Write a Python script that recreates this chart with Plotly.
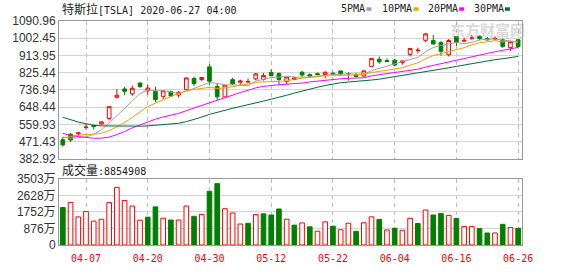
import plotly.graph_objects as go

# ---------------- data ----------------
dates = ["04-02","04-03","04-06","04-07","04-08","04-09","04-13","04-14","04-15","04-16",
         "04-17","04-20","04-21","04-22","04-23","04-24","04-27","04-28","04-29","04-30",
         "05-01","05-04","05-05","05-06","05-07","05-08","05-11","05-12","05-13","05-14",
         "05-15","05-18","05-19","05-20","05-21","05-22","05-26","05-27","05-28","05-29",
         "06-01","06-02","06-03","06-04","06-05","06-08","06-09","06-10","06-11","06-12",
         "06-15","06-16","06-17","06-18","06-19","06-22","06-23","06-24","06-25","06-26"]

open_ = [481.03, 509.00, 511.20, 545.00, 554.20, 562.09, 590.16, 698.97, 742.00, 716.94,
         772.28, 732.70, 730.12, 703.98, 727.60, 710.81, 737.61, 795.64, 790.17, 855.19,
         755.00, 701.00, 789.79, 776.50, 777.21, 793.77, 790.51, 827.00, 820.83, 780.00,
         790.35, 827.78, 815.17, 820.50, 816.00, 822.17, 834.50, 820.86, 813.51, 808.75,
         858.00, 894.70, 888.12, 889.88, 877.84, 919.00, 940.01, 991.88, 990.20, 980.00,
         917.79, 1011.85, 987.13, 1003.00, 1012.78, 999.95, 998.88, 994.11, 954.27, 994.78]
high = [494.26, 515.49, 521.00, 565.00, 557.21, 575.18, 652.00, 741.88, 753.13, 759.45,
        774.95, 765.57, 753.33, 734.00, 734.00, 730.73, 799.49, 805.00, 803.20, 869.82,
        772.77, 762.00, 798.92, 789.80, 796.40, 824.00, 824.00, 843.29, 826.00, 803.36,
        805.05, 834.72, 822.07, 826.00, 832.50, 831.78, 834.60, 827.71, 824.75, 835.00,
        899.00, 908.66, 897.94, 895.75, 886.52, 950.00, 954.44, 1027.48, 1018.96, 987.98,
        998.84, 1012.88, 1005.00, 1019.41, 1015.97, 1008.88, 1012.00, 1000.88, 985.98, 995.00]
low = [446.40, 468.20, 497.96, 532.34, 533.33, 557.11, 580.53, 692.43, 710.00, 706.72,
       747.66, 712.21, 673.79, 688.71, 703.13, 698.18, 735.00, 756.69, 783.16, 763.50,
       683.04, 698.00, 762.18, 761.11, 772.35, 787.01, 785.00, 808.00, 763.30, 764.00,
       786.55, 803.88, 806.08, 811.80, 796.00, 812.00, 815.71, 785.00, 801.69, 804.21,
       854.10, 871.00, 880.10, 858.44, 866.20, 909.16, 923.93, 982.50, 972.00, 912.60,
       908.50, 962.39, 982.57, 994.47, 991.34, 991.00, 994.01, 953.14, 937.15, 954.87]
close = [454.47, 480.01, 516.24, 545.45, 548.84, 573.00, 650.95, 709.89, 729.83, 745.21,
         753.89, 746.36, 686.72, 732.11, 705.63, 725.15, 798.75, 769.12, 800.51, 781.88,
         701.32, 761.19, 768.21, 782.58, 780.04, 819.42, 811.29, 809.41, 790.96, 803.33,
         799.17, 813.63, 808.01, 815.56, 827.60, 816.88, 818.87, 820.23, 805.81, 835.00,
         898.10, 881.56, 882.96, 864.38, 885.66, 949.92, 940.67, 1025.05, 972.84, 935.28,
         990.90, 982.13, 991.79, 1003.96, 1000.90, 994.32, 1001.78, 960.85, 985.98, 959.74]

# volume, in 万 shares
volume = [1986, 2256, 1490, 1781, 1266, 1365, 2248, 3058, 2358, 2066,
          1313, 1475, 2021, 1422, 1324, 1324, 2068, 1522, 1622, 2847,
          3253, 1924, 1699, 1112, 1153, 1613, 1652, 1591, 1907, 1368,
          1052, 1170, 964, 731, 1225, 999, 809, 1155, 728, 1181,
          1494, 1357, 795, 889, 781, 1417, 1139, 1856, 1592, 1673,
          1570, 1405, 979, 975, 868, 636, 637, 1096, 925, 885.4908]

ma5 = [495.30, 488.43, 491.26, 495.55, 509.00, 532.71, 566.90, 605.63, 642.50, 681.78,
       717.95, 737.04, 732.40, 732.86, 724.94, 719.19, 729.67, 746.15, 759.83, 775.08,
       770.32, 762.80, 762.62, 759.04, 758.67, 782.29, 792.31, 800.55, 802.22, 806.88,
       802.83, 803.30, 803.02, 807.94, 812.79, 816.34, 817.38, 819.83, 817.88, 819.36,
       835.60, 848.14, 860.69, 872.40, 882.53, 892.90, 904.72, 933.14, 954.83, 964.75,
       972.95, 981.24, 974.59, 980.81, 993.94, 994.62, 998.55, 992.36, 988.77, 980.53]
ma10 = [491.08, 496.32, 504.52, 508.56, 509.52, 514.01, 527.67, 548.44, 569.02, 595.39,
        625.33, 651.97, 669.01, 687.68, 703.36, 718.57, 733.35, 739.28, 746.35, 750.01,
        744.76, 746.24, 754.39, 759.43, 766.88, 776.30, 777.56, 781.59, 780.63, 782.78,
        792.56, 797.80, 801.78, 805.08, 809.84, 809.58, 810.34, 811.42, 812.91, 816.08,
        825.97, 832.76, 840.26, 845.14, 850.95, 864.25, 876.43, 896.91, 913.61, 923.64,
        932.92, 942.98, 953.86, 967.82, 979.34, 983.78, 989.90, 983.48, 984.79, 987.24]
ma20 = [513.65, 502.48, 497.89, 492.90, 488.63, 489.25, 494.47, 507.71, 522.69, 541.89,
        558.20, 574.14, 586.77, 598.12, 606.44, 616.29, 630.51, 643.86, 657.68, 672.70,
        685.04, 699.10, 711.70, 723.56, 735.12, 747.44, 755.46, 760.43, 763.49, 766.39,
        768.66, 772.02, 778.09, 782.26, 788.36, 792.94, 793.95, 796.50, 796.77, 799.43,
        809.26, 815.28, 821.02, 825.11, 830.39, 836.92, 843.39, 854.17, 863.26, 869.86,
        879.45, 887.87, 897.06, 906.48, 915.14, 924.02, 933.16, 940.19, 949.20, 955.44]
ma30 = [596.56, 582.53, 571.94, 563.46, 555.79, 552.26, 551.69, 550.57, 550.04, 549.90,
        550.88, 552.31, 554.93, 557.83, 560.21, 565.69, 574.10, 584.90, 597.24, 611.26,
        620.39, 631.51, 642.64, 651.89, 659.92, 669.63, 679.53, 689.77, 698.67, 709.39,
        720.88, 732.00, 741.73, 750.73, 760.02, 768.15, 773.75, 777.43, 779.96, 782.95,
        787.76, 792.27, 798.81, 803.22, 809.22, 816.71, 821.44, 829.97, 835.72, 840.83,
        850.48, 857.85, 865.30, 872.68, 880.04, 885.87, 892.22, 897.27, 903.77, 908.98]

price_ticks = [382.92, 471.43, 559.93, 648.44, 736.94, 825.44, 913.95, 1002.45, 1090.96]
price_tick_text = ["382.92", "471.43", "559.93", "648.44", "736.94", "825.44", "913.95", "1002.45", "1090.96"]
vol_ticks = [0, 876, 1752, 2628, 3503]
vol_tick_text = ["0", "876万", "1752万", "2628万", "3503万"]
x_tick_dates = ["04-07", "04-20", "04-30", "05-12", "05-22", "06-04", "06-16", "06-26"]

title_name = "特斯拉"
title_rest = "[TSLA] 2020-06-27 04:00"
vol_label = "成交量"
vol_last = "8854908"
ma_names = ["5PMA", "10PMA", "20PMA", "30PMA"]

# ---------------- style ----------------
W, H = 578, 276
ML, MR, MT, MB = 56, 56, 21, 21
PW, PH = W - ML - MR, H - MT - MB
RED, GREEN = "#ff0000", "#008000"
MA_COLORS = ["#a0a0a0", "#f0a000", "#ff00ff", "#006d38"]
GRID = "#d4d4d4"
BORDER = "#999999"
MONO = "DejaVu Sans Mono, Noto Sans CJK SC"
SANS = "Liberation Sans, Arial, Noto Sans CJK SC"


def px(x):
    return (x - ML) / PW


def py(y):
    return (H - MB - y) / PH


# volume bar colours: up vs previous close
vol_fill, vol_line = [], []
for i in range(len(close)):
    ref = close[i - 1] if i > 0 else open_[i]
    up = close[i] >= ref
    vol_fill.append("#ffffff" if up else GREEN)
    vol_line.append(RED if up else GREEN)

fig = go.Figure()
fig.add_trace(go.Candlestick(
    x=dates, open=open_, high=high, low=low, close=close,
    increasing=dict(line=dict(color=RED, width=1), fillcolor="#ffffff"),
    decreasing=dict(line=dict(color=GREEN, width=1), fillcolor=GREEN),
    whiskerwidth=0, xaxis="x", yaxis="y", hoverinfo="skip"))
for name, vals, col in zip(ma_names, [ma5, ma10, ma20, ma30], MA_COLORS):
    fig.add_trace(go.Scatter(x=dates, y=vals, mode="lines", name=name,
                             line=dict(color=col, width=1), xaxis="x", yaxis="y",
                             hoverinfo="skip"))
fig.add_trace(go.Bar(x=dates, y=volume, xaxis="x2", yaxis="y2",
                     marker=dict(color=vol_fill, line=dict(color=vol_line, width=1)),
                     hoverinfo="skip"))

price_bottom = py(165)
vol_top = py(186)

xcommon = dict(type="category", categoryorder="array", categoryarray=dates,
               range=[-0.5, len(dates) - 0.5], tickmode="array", tickvals=x_tick_dates,
               showgrid=True, gridcolor="#bdbdbd", griddash="4px,4px", gridwidth=1,
               showline=True, mirror=True, linecolor=BORDER, linewidth=1,
               ticks="", zeroline=False, fixedrange=True)

fig.update_layout(
    width=W, height=H, autosize=False,
    margin=dict(l=ML, r=MR, t=MT, b=MB, pad=0),
    paper_bgcolor="#ffffff", plot_bgcolor="#ffffff",
    showlegend=False, bargap=0.4, boxgap=0.32,
    xaxis=dict(anchor="y", domain=[0, 1], showticklabels=False,
               rangeslider=dict(visible=False), **xcommon),
    xaxis2=dict(anchor="y2", domain=[0, 1], matches="x", showticklabels=True,
                tickfont=dict(family=MONO, size=10, color=RED), ticklabelstandoff=4,
                **xcommon),
    yaxis=dict(anchor="x", domain=[price_bottom, 1], range=[price_ticks[0], price_ticks[-1]],
               tickmode="array", tickvals=price_ticks, ticktext=price_tick_text,
               showgrid=True, gridcolor=GRID, gridwidth=1, zeroline=False,
               showline=True, mirror=True, linecolor=BORDER, ticks="",
               tickfont=dict(family=SANS, size=12, color="#333333"), fixedrange=True),
    yaxis2=dict(anchor="x2", domain=[0, vol_top], range=[vol_ticks[0], vol_ticks[-1]],
                tickmode="array", tickvals=vol_ticks, ticktext=vol_tick_text,
                showgrid=True, gridcolor=GRID, gridwidth=1, zeroline=False,
                showline=True, mirror=True, linecolor=BORDER, ticks="",
                tickfont=dict(family=SANS, size=12, color="#333333"), fixedrange=True),
)

ann = []
ann.append(dict(x=px(57), y=py(8.5), xref="paper", yref="paper", xanchor="left", yanchor="middle",
                showarrow=False, font=dict(family=MONO, size=10, color="#222222"),
                text=f'<span style="font-size:12px">{title_name}</span>{title_rest}'))
ann.append(dict(x=px(57), y=py(177), xref="paper", yref="paper", xanchor="left", yanchor="middle",
                showarrow=False, font=dict(family=MONO, size=10, color="#222222"),
                text=f'<span style="font-size:12px">{vol_label}</span>:{vol_last}'))
# legend
leg_text_x = [338.3, 379.3, 425.0, 472.0]
leg_dash_x = [365.0, 412.3, 458.3, 504.3]
shapes = []
for name, col, tx, dx in zip(ma_names, MA_COLORS, leg_text_x, leg_dash_x):
    ann.append(dict(x=px(tx), y=py(8.3), xref="paper", yref="paper", xanchor="left", yanchor="middle",
                    showarrow=False, font=dict(family=MONO, size=10, color="#222222"), text=name))
    shapes.append(dict(type="rect", xref="paper", yref="paper", x0=px(dx + 0.5), x1=px(dx + 5.5),
                       y0=py(10.3), y1=py(6.7), fillcolor=col, line=dict(width=0)))
# watermark
ann.append(dict(x=px(487), y=py(30), xref="paper", yref="paper", xanchor="center", yanchor="middle",
                showarrow=False, font=dict(family="Noto Sans CJK SC", size=15, color="rgba(170,170,170,0.45)"),
                text="<b>东方财富网</b>"))
fig.update_layout(annotations=ann, shapes=shapes)

fig.write_html("out.html")
